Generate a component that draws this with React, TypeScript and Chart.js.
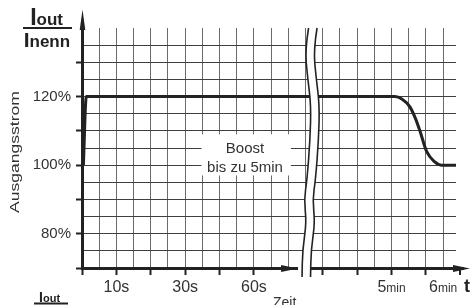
import React, { useEffect, useRef } from 'react';
import { Chart, registerables } from 'chart.js';

Chart.register(...registerables);

// ---- data (time axis in grid units; current in % of nominal) ----
const TIME_U = [0.08, 0.25, 18.2, 18.6, 19.07, 19.4, 19.65, 20.04, 20.5, 20.9, 21.75];
const CURRENT_PCT = [100, 120, 120, 119.3, 117, 113.5, 110, 104, 101, 100, 100];

const X_GRID_U = Array.from({ length: 22 }, (_, i) => i);
const X_TICK_U = [0, 2, 4, 6, 8, 10, 14, 16, 18, 20, 22];
const X_LABEL_U = [2, 6, 10, 18, 21];
const X_LABEL_NUM = ['10s', '30s', '60s', '5', '6'];
const X_LABEL_UNIT = ['', '', '', 'min', 'min'];

const Y_GRID_VALUES = [70, 75, 80, 85, 90, 95, 100, 105, 110, 115, 120, 125, 130, 135, 140];
const Y_TICK_VALUES = [70, 80, 90, 100, 110, 120, 130];
const Y_LABEL_VALUES = [120, 100, 80];
const Y_LABEL_TEXT = ['120%', '100%', '80%'];

const BOOST_LINES = ['Boost', 'bis zu 5min'];
const BREAK_U = 13;

// ---- styling ----
const FONT = '"Liberation Sans", Arial, Helvetica, sans-serif';
const INK = '#222';
const TEXT = '#333';
const GRID_V = '#6a6a6a';
const GRID_H = '#3e3e3e';

// wave of the axis break: [pixel offset from break position, y value]
const WAVE: [number, number][] = [
  [3, 140], [-0.5, 133.6], [2, 125.7], [5.5, 117.5], [4.5, 107.3],
  [1.5, 95.7], [-1.5, 89.8], [1, 83.4], [-3, 75.2], [-3.5, 67.4],
];
const WAVE_GAP = 8.5;

function smoothPath(ctx: CanvasRenderingContext2D, pts: number[][], move = true) {
  if (move) ctx.moveTo(pts[0][0], pts[0][1]);
  else ctx.lineTo(pts[0][0], pts[0][1]);
  for (let i = 1; i < pts.length - 1; i++) {
    const mx = (pts[i][0] + pts[i + 1][0]) / 2;
    const my = (pts[i][1] + pts[i + 1][1]) / 2;
    ctx.quadraticCurveTo(pts[i][0], pts[i][1], mx, my);
  }
  const l = pts[pts.length - 1];
  ctx.lineTo(l[0], l[1]);
}

const decor = {
  id: 'decor',
  afterDraw(chart: any) {
    const ctx: CanvasRenderingContext2D = chart.ctx;
    const xs = chart.scales.x;
    const ys = chart.scales.y;
    const X = (v: number) => xs.getPixelForValue(v);
    const Y = (v: number) => ys.getPixelForValue(v);
    const area = chart.chartArea;
    const axY = area.bottom + 0.5;
    const axX = area.left + 0.5;
    ctx.save();

    // ---- axis break ----
    const bx = X(BREAK_U);
    const left = WAVE.map(([dx, v]) => [bx + dx, Y(v)]);
    const right = left.map(([x, y]) => [x + WAVE_GAP, y]);
    const tipX = bx - 7.5;
    ctx.fillStyle = '#fff';
    ctx.beginPath();
    smoothPath(ctx, left);
    smoothPath(ctx, right.slice().reverse(), false);
    ctx.closePath();
    ctx.fill();
    ctx.fillRect(tipX, axY - 2.5, right[right.length - 1][0] - tipX - 1, 5);
    ctx.strokeStyle = INK;
    ctx.lineWidth = 1.6;
    ctx.beginPath();
    smoothPath(ctx, left);
    ctx.stroke();
    ctx.beginPath();
    smoothPath(ctx, right);
    ctx.stroke();

    // arrow before the break
    ctx.fillStyle = INK;
    ctx.beginPath();
    ctx.moveTo(tipX, axY);
    ctx.lineTo(tipX - 17, axY - 3.5);
    ctx.lineTo(tipX - 17, axY + 3.5);
    ctx.closePath();
    ctx.fill();

    // x axis extension + arrow
    const endX = chart.width - 1;
    ctx.lineWidth = 3;
    ctx.beginPath();
    ctx.moveTo(area.right, axY);
    ctx.lineTo(endX - 6, axY);
    ctx.stroke();
    ctx.beginPath();
    ctx.moveTo(endX, axY);
    ctx.lineTo(endX - 17, axY - 3.5);
    ctx.lineTo(endX - 17, axY + 3.5);
    ctx.closePath();
    ctx.fill();
    // extra tick beyond the grid
    ctx.lineWidth = 2;
    X_TICK_U.filter((u) => u > xs.max).forEach((u) => {
      ctx.beginPath();
      ctx.moveTo(Math.round(X(u)) + 0.0, area.bottom);
      ctx.lineTo(Math.round(X(u)) + 0.0, area.bottom + 7);
      ctx.stroke();
    });

    // y axis extension + arrow
    ctx.lineWidth = 3;
    ctx.beginPath();
    ctx.moveTo(axX, area.top);
    ctx.lineTo(axX, 20);
    ctx.stroke();
    ctx.beginPath();
    ctx.moveTo(axX, 9.5);
    ctx.lineTo(axX - 2.8, 30);
    ctx.lineTo(axX + 2.8, 30);
    ctx.closePath();
    ctx.fill();

    // ---- boost box ----
    const bl = X(6.95), br = X(12.15), bt = Y(109), bb = Y(97);
    ctx.fillStyle = '#fff';
    ctx.fillRect(bl, bt, br - bl, bb - bt);
    ctx.fillStyle = TEXT;
    ctx.font = `15px ${FONT}`;
    ctx.textAlign = 'center';
    ctx.textBaseline = 'middle';
    ctx.fillText(BOOST_LINES[0], X(9.48), Y(104.7));
    ctx.fillText(BOOST_LINES[1], X(9.48), Y(99.3));

    // ---- x labels ----
    ctx.textAlign = 'left';
    ctx.textBaseline = 'alphabetic';
    X_LABEL_U.forEach((u, i) => {
      ctx.font = `16px ${FONT}`;
      const w1 = ctx.measureText(X_LABEL_NUM[i]).width;
      ctx.font = `12px ${FONT}`;
      const w2 = X_LABEL_UNIT[i] ? ctx.measureText(X_LABEL_UNIT[i]).width : 0;
      const sx = X(u) - (w1 + w2) / 2;
      ctx.font = `16px ${FONT}`;
      ctx.fillText(X_LABEL_NUM[i], sx, 292);
      if (X_LABEL_UNIT[i]) {
        ctx.font = `12px ${FONT}`;
        ctx.fillText(X_LABEL_UNIT[i], sx + w1, 292);
      }
    });
    ctx.fillStyle = INK;
    ctx.font = `bold 18px ${FONT}`;
    ctx.fillText('t', 464, 292);
    ctx.fillStyle = TEXT;
    ctx.font = `14px ${FONT}`;
    ctx.fillText('Zeit', 273, 307);

    // ---- y title (fraction) ----
    ctx.fillStyle = INK;
    ctx.font = `bold 23px ${FONT}`;
    ctx.fillText('I', 30.2, 25);
    ctx.font = `bold 17px ${FONT}`;
    ctx.fillText('out', 36.6, 25);
    ctx.font = `bold 21px ${FONT}`;
    ctx.fillText('I', 23.7, 46.7);
    ctx.font = `bold 17px ${FONT}`;
    ctx.fillText('nenn', 29.5, 46.7);
    ctx.lineWidth = 2;
    ctx.beginPath();
    ctx.moveTo(23, 28);
    ctx.lineTo(72, 28);
    ctx.stroke();

    // bottom-left fraction (cut off)
    ctx.font = `bold 14px ${FONT}`;
    ctx.fillText('I', 39, 301.7);
    ctx.font = `bold 11px ${FONT}`;
    ctx.fillText('out', 43, 301.7);
    ctx.beginPath();
    ctx.moveTo(34, 303.5);
    ctx.lineTo(68, 303.5);
    ctx.stroke();

    // ---- rotated axis title ----
    ctx.save();
    ctx.translate(15, 152);
    ctx.rotate(-Math.PI / 2);
    ctx.scale(1.35, 1);
    ctx.fillStyle = TEXT;
    ctx.font = `13px ${FONT}`;
    ctx.textAlign = 'center';
    ctx.textBaseline = 'middle';
    ctx.fillText('Ausgangsstrom', 0, 0);
    ctx.restore();

    ctx.restore();
  },
};

export default function App() {
  const ref = useRef<HTMLCanvasElement>(null);
  useEffect(() => {
    const canvas = ref.current;
    if (!canvas) return;
    const chart = new Chart(canvas, {
      type: 'line',
      data: {
        datasets: [
          {
            data: TIME_U.map((u, i) => ({ x: u, y: CURRENT_PCT[i] })),
            borderColor: INK,
            borderWidth: 3,
            pointRadius: 0,
            cubicInterpolationMode: 'monotone',
            fill: false,
          },
        ],
      },
      options: {
        animation: false,
        responsive: false,
        devicePixelRatio: 1,
        events: [],
        layout: { padding: { left: 0, top: 28, right: 15, bottom: 0 } },
        plugins: { legend: { display: false }, tooltip: { enabled: false } },
        scales: {
          x: {
            type: 'linear',
            min: 0,
            max: 21.75,
            afterFit: (s: any) => {
              s.height = 37;
            },
            afterBuildTicks: (s: any) => {
              s.ticks = X_GRID_U.map((v) => ({ value: v }));
            },
            ticks: { display: false },
            grid: {
              color: (c: any) => (c.tick && c.tick.value > 0 ? GRID_V : 'transparent'),
              lineWidth: 1,
              drawTicks: true,
              tickLength: 7,
              tickWidth: 2,
              tickColor: (c: any) => (c.tick && X_TICK_U.includes(c.tick.value) ? INK : 'transparent'),
            },
            border: { display: true, color: INK, width: 3 },
          },
          y: {
            type: 'linear',
            min: 70,
            max: 140,
            afterFit: (s: any) => {
              s.width = 82;
            },
            afterBuildTicks: (s: any) => {
              s.ticks = Y_GRID_VALUES.map((v) => ({ value: v }));
            },
            ticks: {
              autoSkip: false,
              padding: 5,
              color: TEXT,
              font: { family: FONT, size: 15 },
              callback: (v: any) => {
                const i = Y_LABEL_VALUES.indexOf(Number(v));
                return i >= 0 ? Y_LABEL_TEXT[i] : '';
              },
            },
            grid: {
              color: (c: any) =>
                c.tick && c.tick.value > 70 && c.tick.value < 140 ? GRID_H : 'transparent',
              lineWidth: 1,
              drawTicks: true,
              tickLength: 6,
              tickWidth: 2,
              tickColor: (c: any) => (c.tick && Y_TICK_VALUES.includes(c.tick.value) ? INK : 'transparent'),
            },
            border: { display: true, color: INK, width: 3 },
          },
        },
      },
      plugins: [decor],
    } as any);
    return () => chart.destroy();
  }, []);
  return (
    <div style={{ position: 'absolute', left: 0, top: 0, width: 471, height: 305, background: '#fff' }}>
      <canvas ref={ref} width={471} height={305} style={{ display: 'block', width: 471, height: 305 }} />
    </div>
  );
}
